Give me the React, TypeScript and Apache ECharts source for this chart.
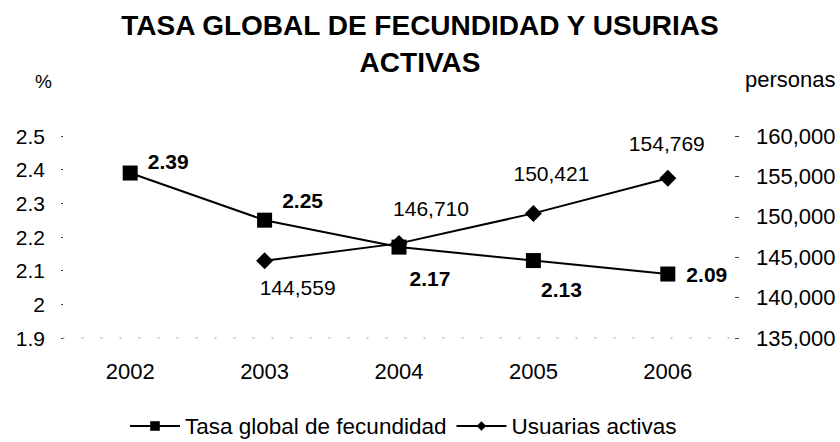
import React, { useEffect, useRef } from "react";
import * as echarts from "echarts";

const years = ["2002", "2003", "2004", "2005", "2006"];
const tasaGlobal = [2.39, 2.25, 2.17, 2.13, 2.09];
const usuariasActivas: (number | string)[] = ["-", 144559, 146710, 150421, 154769];
const titleText = "TASA GLOBAL DE FECUNDIDAD Y USURIAS\nACTIVAS";
const seriesNames = ["Tasa global de fecundidad", "Usuarias activas"];

// label placement (style only)
const tasaLabelOffsets = [[38, -12], [38, -20], [31, 31], [28, 29], [39, 0]];
const usuariasLabelOffsets = [[0, 0], [33, 27], [32, -35], [18, -40], [-1, -35]];

const FONT = "'Liberation Sans', Arial, sans-serif";

export default function App() {
  const ref = useRef<HTMLDivElement>(null);
  useEffect(() => {
    if (!ref.current) return;
    const chart = echarts.init(ref.current, undefined, { renderer: "svg" });
    const fmt = (n: number) => n.toLocaleString("en-US");
    chart.setOption({
      animation: false,
      backgroundColor: "#fff",
      textStyle: { fontFamily: FONT, color: "#000" },
      title: {
        text: titleText,
        left: "center",
        top: 2,
        textStyle: {
          fontFamily: FONT,
          fontSize: 28,
          fontWeight: "bold",
          color: "#000",
          lineHeight: 37,
        },
      },
      graphic: [
        { type: "text", left: 35, top: 72, style: { text: "%", font: `19px ${FONT}`, fill: "#000" } },
        { type: "text", left: 745, top: 68, style: { text: "personas", font: `22px ${FONT}`, fill: "#000" } },
      ],
      legend: {
        top: 409,
        left: 124,
        itemWidth: 50,
        itemHeight: 12,
        itemGap: 9,
        data: seriesNames,
        textStyle: { fontFamily: FONT, fontSize: 22.5, color: "#000", lineHeight: 24 },
      },
      grid: { left: 63, right: 105, top: 136, bottom: 104 },
      xAxis: {
        type: "category",
        data: years,
        axisLine: { show: true, lineStyle: { color: "#bbb", type: [1, 18], width: 1.5 } },
        axisTick: { show: false },
        axisLabel: { fontFamily: FONT, fontSize: 22, color: "#000", margin: 22 },
      },
      yAxis: [
        {
          type: "value",
          min: 1.9,
          max: 2.5,
          interval: 0.1,
          axisLine: { show: false },
          axisTick: { show: true, length: 2, lineStyle: { color: "#444" } },
          splitLine: { show: false },
          axisLabel: {
            fontFamily: FONT,
            fontSize: 21,
            color: "#000",
            margin: 18,
            formatter: (v: number) => String(Math.round(v * 10) / 10),
          },
        },
        {
          type: "value",
          min: 135000,
          max: 160000,
          interval: 5000,
          position: "right",
          axisLine: { show: false },
          axisTick: { show: true, length: 4, lineStyle: { color: "#444" } },
          splitLine: { show: false },
          axisLabel: {
            fontFamily: FONT,
            fontSize: 22,
            color: "#000",
            margin: 21,
            formatter: (v: number) => fmt(v),
          },
        },
      ],
      series: [
        {
          name: seriesNames[0],
          type: "line",
          yAxisIndex: 0,
          symbol: "rect",
          symbolSize: 15,
          itemStyle: { color: "#000" },
          lineStyle: { color: "#000", width: 2 },
          data: tasaGlobal.map((v, i) => ({
            value: v,
            label: {
              show: true,
              position: "inside",
              offset: tasaLabelOffsets[i],
              formatter: (p: any) => p.value.toFixed(2),
              fontFamily: FONT,
              fontSize: 21,
              fontWeight: "bold",
              color: "#000",
            },
          })),
        },
        {
          name: seriesNames[1],
          type: "line",
          yAxisIndex: 1,
          symbol: "diamond",
          symbolSize: 17,
          itemStyle: { color: "#000" },
          lineStyle: { color: "#000", width: 2 },
          data: usuariasActivas.map((v, i) => ({
            value: v,
            label: {
              show: typeof v === "number",
              position: "inside",
              offset: usuariasLabelOffsets[i],
              formatter: (p: any) => fmt(p.value),
              fontFamily: FONT,
              fontSize: 21,
              color: "#000",
            },
          })),
        },
      ],
    });
    return () => chart.dispose();
  }, []);
  return <div ref={ref} style={{ width: 840, height: 442, position: "absolute", left: 0, top: 0 }} />;
}
